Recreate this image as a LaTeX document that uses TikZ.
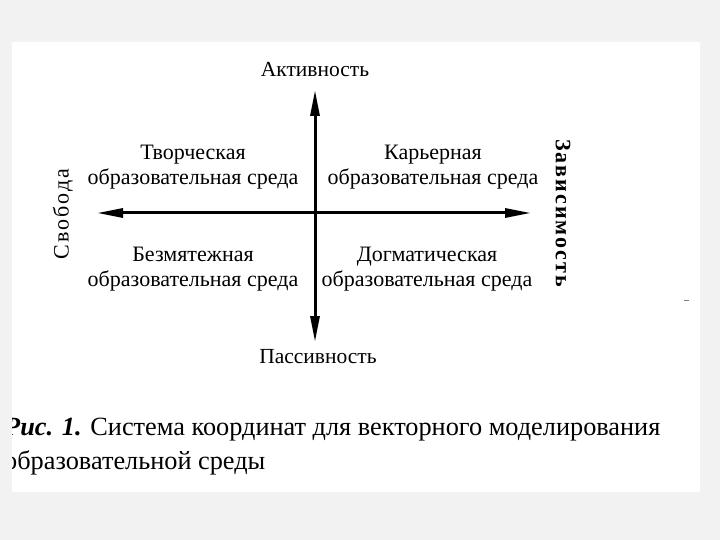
\documentclass[tikz,border=0pt]{standalone}
\usepackage{fontspec}
\setmainfont{Liberation Serif}
\newfontfamily\capserif{Liberation Serif}
\usetikzlibrary{arrows.meta}
\begin{document}
\begin{tikzpicture}[x=1pt,y=-1pt,
  lbl/.style={font=\rmfamily\fontsize{21.5}{24}\selectfont, inner sep=0pt, align=center},
  vlbl/.style={font=\rmfamily\fontsize{22}{24}\selectfont\addfontfeature{LetterSpace=9}, inner sep=0pt},
  quad/.style={font=\rmfamily\fontsize{22}{25}\selectfont, inner sep=0pt, align=center},
  axis/.style={line width=3pt, -{Triangle[length=26pt,width=9pt]}},
  captxt/.style={font=\capserif\fontsize{26.3}{32}\selectfont, inner sep=0pt, anchor=west}]
\useasboundingbox (0,0) rectangle (720,540);
\fill[gray!10] (0,0) rectangle (720,540);
\fill[white, rounded corners=2pt] (12,42) rectangle (700,492);
% axes
\coordinate (O) at (315,213);
\coordinate (top) at (315,90);
\coordinate (bot) at (315,342);
\coordinate (left) at (97,213);
\coordinate (right) at (531,213);
\draw[axis] (O) -- (top);
\draw[axis] (O) -- (bot);
\draw[axis] (O) -- (left);
\draw[axis] (O) -- (right);
% axis labels
\node[lbl] (act) at (315,70) {Активность};
\node[lbl] (pas) at (318,357) {Пассивность};
\node[vlbl, rotate=90] (svo) at (63,214) {Свобода};
\node[vlbl, rotate=-90] (zav) at (563,214) {\textbf{Зависимость}};
% quadrants
\node[quad] (q1) at (193,167) {Творческая\\образовательная среда};
\node[quad] (q2) at (433,167) {Карьерная\\образовательная среда};
\node[quad] (q3) at (193,269) {Безмятежная\\образовательная среда};
\node[quad] (q4) at (427,269) {Догматическая\\образовательная среда};
% caption (clipped on the left as in the scan)
\begin{scope}
\clip (12,42) rectangle (700,492);
\node[captxt] (c1) at (4,430) {\textbf{\textit{Рис. 1.}} Система координат для векторного моделирования};
\node[captxt] (c2) at (4,463) {образовательной среды};
\end{scope}
\draw[gray, line width=0.8pt] (684,300) -- (689,300);
\end{tikzpicture}
\end{document}
